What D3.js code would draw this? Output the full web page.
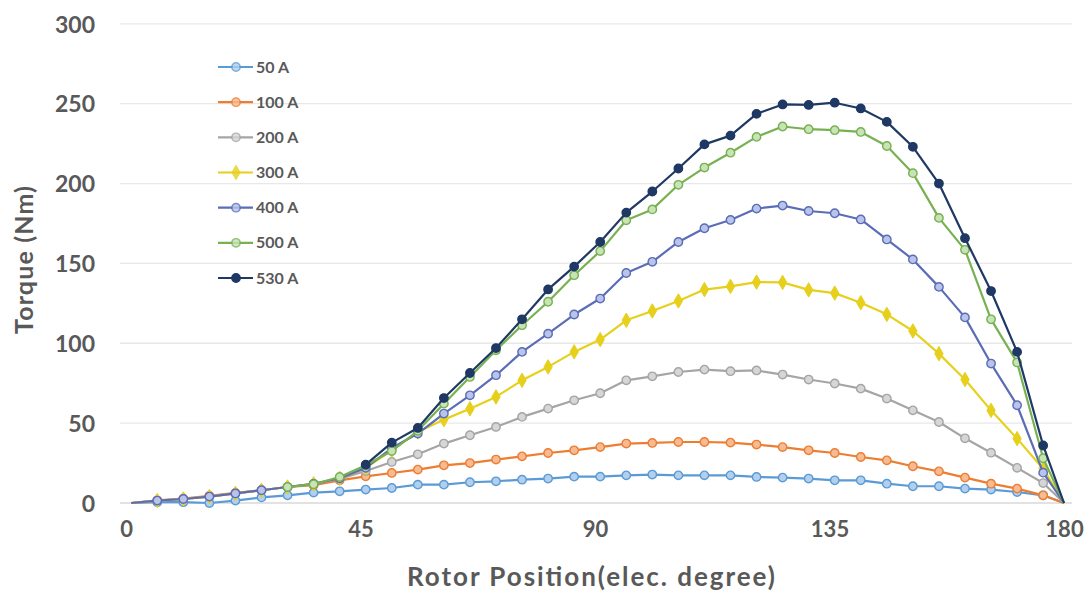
<!DOCTYPE html>
<html>
<head>
<meta charset="utf-8">
<script src="https://cdn.jsdelivr.net/npm/d3@7"></script>
<style>
  html, body { margin: 0; padding: 0; background: #ffffff; }
  svg { display: block; }
  text { font-family: Lato, "Open Sans", "DejaVu Sans", sans-serif; }
</style>
</head>
<body>
<svg id="chart" width="1089" height="598"></svg>
<script>
// Rotor position (electrical degrees) at which torque was sampled
const degrees = [1, 6, 11, 16, 21, 26, 31, 36, 41, 46, 51, 56, 61, 66, 71, 76, 81, 86, 91,
  96, 101, 106, 111, 116, 121, 126, 131, 136, 141, 146, 151, 156, 161, 166, 171, 176, 180];

// Torque (Nm) for each phase current; null where no sample was recorded
const torque50 = [0, 0.5, 0.5, 0, 1.5, 3.5, 4.8, 6.5, 7.3, 8.4, 9.4, 11.5, 11.5, 13, 13.6, 14.6,
  15.3, 16.5, 16.5, 17.3, 17.8, 17.3, 17.3, 17.3, 16.3, 15.9, 15.3, 14.2, 14.2, 12.1, 10.5,
  10.5, 9, 8.4, 6.9, 4.8, 0];
const torque100 = [0, 1.7, 2.7, 4.5, 6.3, 8, 10, 11.1, 14.2, 16.7, 18.8, 20.9, 23.6, 25, 27.2,
  29.2, 31.3, 33, 35, 37.2, 37.6, 38.2, 38.2, 37.8, 36.6, 35, 33, 31.3, 28.8, 26.7, 23, 19.8,
  15.9, 12.1, 9, 4.8, 0];
const torque200 = [0, 1.5, 2.5, 4, 6, 8, 10, 12, 15, 20, 25.7, 30.5, 37.2, 42.4, 47.6, 53.9,
  59.1, 64.3, 68.7, 76.8, 79.3, 82, 83.5, 82.5, 83, 80.4, 77.3, 74.8, 71.6, 65.4, 58, 50.7,
  40.5, 31.5, 22, 12.5, 0];
const torque300 = [0, 1.5, 2.5, 4, 6, 8, 10, 12, 15.5, 22, 33, 44.5, 52.2, 59, 66.4, 76.8,
  85.2, 94.6, 102.3, 114.4, 120.2, 126.5, 133.6, 135.6, 138.3, 138.1, 133.4, 131.4, 125.4,
  118.1, 107.7, 93.5, 77.3, 58, 40.3, 21.5, 0];
const torque400 = [0, 1.5, 2.5, 4, 6, 8, 10, 12, 15.5, 22, 34.4, 43.5, 56, 67.4, 80, 94.6, 106,
  118, 128, 144, 151, 163.4, 172, 177.2, 184.3, 186.2, 182.8, 181.4, 177.5, 165, 152.5,
  135.3, 116.2, 87.3, 61.2, 19, 0];
const torque500 = [null, null, null, null, null, null, 10, 11.7, 16.3, 23.6, 32.5, 45.2, 62.2,
  78.9, 95.6, 111.3, 126, 142.6, 157.7, 177, 183.8, 199.2, 210, 219.3, 229.2, 235.7, 234,
  233.4, 232.3, 223.5, 206.5, 178.5, 158.5, 115, 88, 28, 0];
const torque530 = [null, null, null, null, null, null, null, null, null, 24, 37.8, 47, 65.7,
  81.4, 97, 115, 133.7, 148, 163.4, 181.8, 195, 209.4, 224.5, 230, 243.6, 249.5, 249.2,
  250.6, 247, 238.6, 223, 200, 165.8, 132.7, 94.6, 36, 0];

const seriesNames = ["50 A", "100 A", "200 A", "300 A", "400 A", "500 A", "530 A"];
const seriesValues = [torque50, torque100, torque200, torque300, torque400, torque500, torque530];

const xTicks = [0, 45, 90, 135, 180];
const yTicks = [0, 50, 100, 150, 200, 250, 300];

// Line colour, marker fill and marker shape for each current
const lineColors = ["#5b9bd5", "#ed7d31", "#a5a5a5", "#e6d01c", "#5a6db6", "#77b152", "#1f3864"];
const markerFills = ["#b3cfee", "#f6bb93", "#d6d6d6", "#e6d01c", "#bac4ea", "#c8e3b6", "#1f3864"];
const markerShapes = ["circle", "circle", "circle", "diamond", "circle", "circle", "circle"];

const svg = d3.select("#chart");
const textColor = "#595959";

const x = d3.scaleLinear().domain([0, 180]).range([126, 1064]);
const y = d3.scaleLinear().domain([0, 300]).range([503, 23.8]);

// Horizontal gridlines
svg.append("g")
  .selectAll("line")
  .data(yTicks.filter(d => d > 0))
  .join("line")
  .attr("x1", 120).attr("x2", 1072)
  .attr("y1", d => y(d)).attr("y2", d => y(d))
  .attr("stroke", "#e8e8e8").attr("stroke-width", 1.3);

// Baseline
svg.append("line")
  .attr("x1", 120).attr("x2", 1072)
  .attr("y1", y(0)).attr("y2", y(0))
  .attr("stroke", "#d9d9d9").attr("stroke-width", 1.3);

// Y axis labels
const yAxis = d3.axisLeft(y).tickValues(yTicks).tickSize(0).tickPadding(0);
const gy = svg.append("g").attr("transform", "translate(95,0)").call(yAxis);
gy.select(".domain").remove();
gy.selectAll("text")
  .attr("fill", textColor)
  .style("font-size", "23px")
  .style("font-weight", "700")
  .attr("dy", "0.36em");

// X axis labels
const xAxis = d3.axisBottom(x).tickValues(xTicks).tickSize(0).tickPadding(0);
const gx = svg.append("g").attr("transform", "translate(0,530)").call(xAxis);
gx.select(".domain").remove();
gx.selectAll("text")
  .attr("fill", textColor)
  .style("font-size", "22px")
  .style("font-weight", "700")
  .attr("dy", "0.3em");

// Axis titles
svg.append("text")
  .attr("x", 591).attr("y", 586)
  .attr("text-anchor", "middle")
  .attr("fill", textColor)
  .attr("textLength", 368).attr("lengthAdjust", "spacing")
  .style("font-size", "26px").style("font-weight", "700")
  .text("Rotor Position(elec. degree)");

svg.append("text")
  .attr("transform", "translate(33,260) rotate(-90)")
  .attr("text-anchor", "middle")
  .attr("fill", textColor)
  .attr("textLength", 148).attr("lengthAdjust", "spacing")
  .style("font-size", "25px").style("font-weight", "700")
  .text("Torque (Nm)");

// Curves
const line = d3.line()
  .defined(d => d[1] !== null)
  .x(d => x(d[0])).y(d => y(d[1]));
const diamond = d3.symbol().type(d3.symbolDiamond).size(60);

function drawMarker(sel, shape, stroke, fill) {
  if (shape === "diamond") {
    sel.append("path").attr("d", diamond())
      .attr("fill", fill).attr("stroke", stroke).attr("stroke-width", 1);
  } else {
    sel.append("circle").attr("r", 4.2)
      .attr("fill", fill).attr("stroke", stroke).attr("stroke-width", 1.4);
  }
}

seriesValues.forEach((vals, i) => {
  const pts = degrees.map((d, k) => [d, vals[k]]);
  const g = svg.append("g");
  g.append("path")
    .datum(pts)
    .attr("fill", "none")
    .attr("stroke", lineColors[i])
    .attr("stroke-width", 2.2)
    .attr("stroke-linejoin", "round")
    .attr("d", line);
  g.selectAll("g.pt")
    .data(pts.slice(1, -1).filter(d => d[1] !== null))
    .join("g")
    .attr("class", "pt")
    .attr("transform", d => `translate(${x(d[0])},${y(d[1])})`)
    .each(function () { drawMarker(d3.select(this), markerShapes[i], lineColors[i], markerFills[i]); });
});

// Legend
const legendY = d3.scalePoint().domain(seriesNames).range([67, 278]);
const legend = svg.append("g");
seriesNames.forEach((name, i) => {
  const row = legend.append("g").attr("transform", `translate(0,${legendY(name)})`);
  row.append("line")
    .attr("x1", 218).attr("x2", 253)
    .attr("stroke", lineColors[i]).attr("stroke-width", 2.2);
  const m = row.append("g").attr("transform", "translate(236,0)");
  drawMarker(m, markerShapes[i], lineColors[i], markerFills[i]);
  m.attr("opacity", i === 6 ? 1 : 0.8);
  row.append("text")
    .attr("x", 256).attr("y", 0).attr("dy", "0.35em")
    .attr("fill", textColor)
    .style("font-size", "16px").style("font-weight", "700")
    .text(name);
});
</script>
</body>
</html>
